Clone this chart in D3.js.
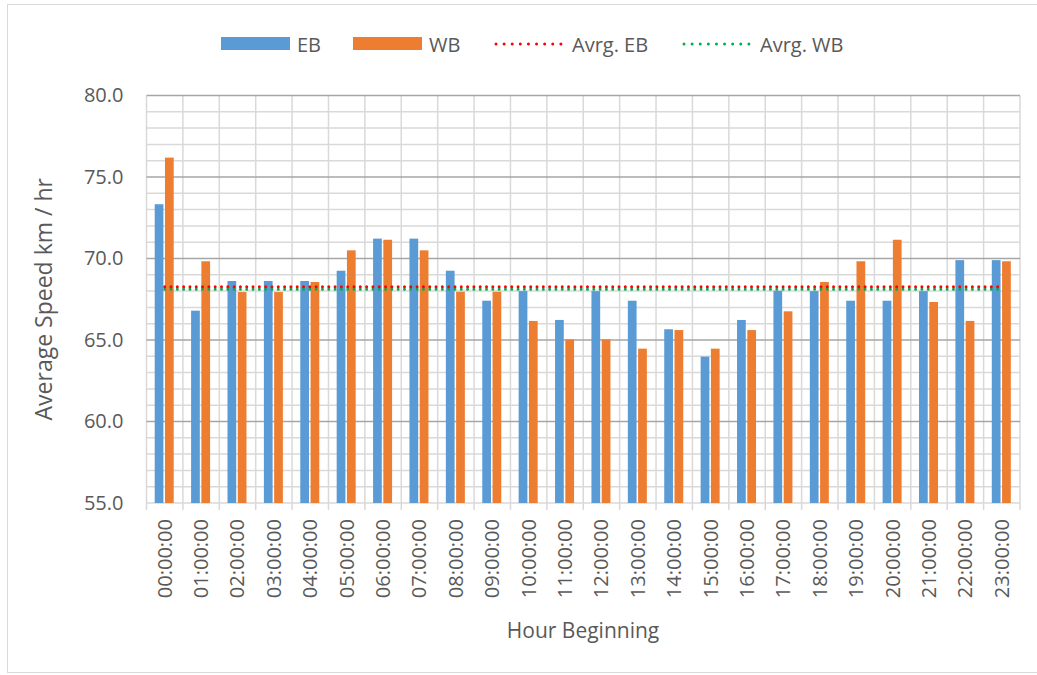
<!DOCTYPE html>
<html>
<head>
<meta charset="utf-8">
<script src="https://cdn.jsdelivr.net/npm/d3@7"></script>
<style>
  html, body { margin: 0; padding: 0; background: #fff; }
  svg { display: block; }
  text { font-family: "Open Sans", sans-serif; fill: #595959; }
</style>
</head>
<body>
<svg id="chart" width="1037" height="675"></svg>
<script>
const hours = ["00:00:00","01:00:00","02:00:00","03:00:00","04:00:00","05:00:00","06:00:00","07:00:00",
               "08:00:00","09:00:00","10:00:00","11:00:00","12:00:00","13:00:00","14:00:00","15:00:00",
               "16:00:00","17:00:00","18:00:00","19:00:00","20:00:00","21:00:00","22:00:00","23:00:00"];
const ebValues = [73.33,66.80,68.62,68.62,68.62,69.25,71.22,71.22,69.25,67.41,68.00,66.23,
                  68.00,67.41,65.66,63.98,66.23,68.02,68.00,67.41,67.41,68.00,69.90,69.90];
const wbValues = [76.19,69.83,67.94,67.94,68.56,70.50,71.15,70.50,67.96,67.96,66.17,65.04,
                  65.04,64.47,65.61,64.47,65.61,66.76,68.56,69.83,71.15,67.33,66.17,69.83];
const avgEB = [68.27,68.27,68.27,68.27,68.27,68.27,68.27,68.27,68.27,68.27,68.27,68.27,
               68.27,68.27,68.27,68.27,68.27,68.27,68.27,68.27,68.27,68.27,68.27,68.27];
const avgWB = [68.11,68.11,68.11,68.11,68.11,68.11,68.11,68.11,68.11,68.11,68.11,68.11,
               68.11,68.11,68.11,68.11,68.11,68.11,68.11,68.11,68.11,68.11,68.11,68.11];
const yTicks = [55,60,65,70,75,80];
const seriesNames = ["EB","WB"];
const legendLabels = ["EB","WB","Avrg. EB","Avrg. WB"];

const colors = { EB: "#5B9BD5", WB: "#ED7D31", avgEB: "#FF0000", avgWB: "#00B050" };

const svg = d3.select("#chart");
const pLeft = 146.5, pRight = 1020, pTop = 95.5, pBottom = 503;

// outer chart border
svg.append("rect").attr("x", 7.5).attr("y", 4.5).attr("width", 1040).attr("height", 668)
  .attr("fill", "none").attr("stroke", "#D9D9D9").attr("stroke-width", 1);

const x = d3.scaleBand().domain(hours).range([pLeft, pRight]).paddingInner(0).paddingOuter(0);
const xs = d3.scaleBand().domain(seriesNames).range([-10, 9]).paddingInner(0.15);
const y = d3.scaleLinear().domain([55, 80]).range([pBottom, pTop]);

// minor horizontal gridlines
const minor = d3.range(56, 80, 1).filter(v => v % 5 !== 0);
svg.append("g").selectAll("line").data(minor).join("line")
  .attr("x1", pLeft).attr("x2", pRight).attr("y1", d => y(d)).attr("y2", d => y(d))
  .attr("stroke", "#D9D9D9").attr("stroke-width", 1.5);

// vertical gridlines at category boundaries (with ticks below axis)
const bounds = hours.map(h => x(h)).concat([pRight]);
svg.append("g").selectAll("line").data(bounds).join("line")
  .attr("x1", d => d).attr("x2", d => d).attr("y1", pTop).attr("y2", pBottom + 7)
  .attr("stroke", "#D9D9D9").attr("stroke-width", 1.5);

// major horizontal gridlines
svg.append("g").selectAll("line").data(yTicks.filter(v => v > 55)).join("line")
  .attr("x1", pLeft).attr("x2", pRight).attr("y1", d => y(d)).attr("y2", d => y(d))
  .attr("stroke", "#A6A6A6").attr("stroke-width", 1.5);

// x axis baseline
svg.append("line").attr("x1", pLeft).attr("x2", pRight).attr("y1", pBottom).attr("y2", pBottom)
  .attr("stroke", "#D9D9D9").attr("stroke-width", 1.5);

// bars
const barData = [];
hours.forEach((h, i) => {
  barData.push({ h, s: "EB", v: ebValues[i] });
  barData.push({ h, s: "WB", v: wbValues[i] });
});
svg.append("g").selectAll("rect").data(barData).join("rect")
  .attr("x", d => x(d.h) + x.bandwidth() / 2 + xs(d.s))
  .attr("width", xs.bandwidth())
  .attr("y", d => y(d.v))
  .attr("height", d => y(55) - y(d.v))
  .attr("fill", d => colors[d.s]);

// average lines
const line = d3.line().x((d, i) => x(hours[i]) + x.bandwidth() / 2).y(d => y(d));
svg.append("path").datum(avgWB).attr("d", line).attr("fill", "none")
  .attr("stroke", colors.avgWB).attr("stroke-width", 3).attr("stroke-linecap", "round")
  .attr("stroke-dasharray", "0.01 6.3");
svg.append("path").datum(avgEB).attr("d", line).attr("fill", "none")
  .attr("stroke", colors.avgEB).attr("stroke-width", 3).attr("stroke-linecap", "round")
  .attr("stroke-dasharray", "0.01 6.3");

// y axis labels
const yAxis = d3.axisLeft(y).tickValues(yTicks).tickFormat(d3.format(".1f")).tickSize(0).tickPadding(23);
const gy = svg.append("g").attr("transform", `translate(${pLeft},0)`).call(yAxis);
gy.select(".domain").remove();
gy.selectAll("text").attr("font-size", 20).attr("fill", "#595959")
  .attr("font-family", "'Open Sans', sans-serif");

// x axis labels
const xAxis = d3.axisBottom(x).tickSize(0).tickPadding(0);
const gx = svg.append("g").attr("transform", `translate(0,${pBottom})`).call(xAxis);
gx.select(".domain").remove();
gx.selectAll("text")
  .attr("font-size", 20).attr("fill", "#595959").attr("font-family", "'Open Sans', sans-serif")
  .attr("text-anchor", "end").attr("dy", "0.35em")
  .attr("transform", "translate(0,16) rotate(-90)")
  .attr("x", 0).attr("y", 0);

// axis titles
svg.append("text").attr("x", 583).attr("y", 638).attr("text-anchor", "middle")
  .attr("font-size", 21).text("Hour Beginning");
svg.append("text").attr("transform", `translate(52,${(pTop + pBottom) / 2}) rotate(-90)`)
  .attr("text-anchor", "middle").attr("font-size", 23).text("Average Speed km / hr");

// legend
const lg = svg.append("g");
const legendX = [221, 353, 495, 683];
const legendItems = [
  { label: legendLabels[0], type: "rect", color: colors.EB },
  { label: legendLabels[1], type: "rect", color: colors.WB },
  { label: legendLabels[2], type: "line", color: colors.avgEB },
  { label: legendLabels[3], type: "line", color: colors.avgWB }
];
legendItems.forEach((it, i) => {
  const gx0 = legendX[i];
  if (it.type === "rect") {
    lg.append("rect").attr("x", gx0).attr("y", 37).attr("width", 69).attr("height", 13).attr("fill", it.color);
    lg.append("text").attr("x", gx0 + 76).attr("y", 51.5).attr("font-size", 20).text(it.label);
  } else {
    lg.append("line").attr("x1", gx0 + 1).attr("x2", gx0 + 66).attr("y1", 44).attr("y2", 44)
      .attr("stroke", it.color).attr("stroke-width", 3).attr("stroke-linecap", "round")
      .attr("stroke-dasharray", "0.01 8.1");
    lg.append("text").attr("x", gx0 + 77).attr("y", 51.5).attr("font-size", 20).text(it.label);
  }
});
</script>
</body>
</html>
